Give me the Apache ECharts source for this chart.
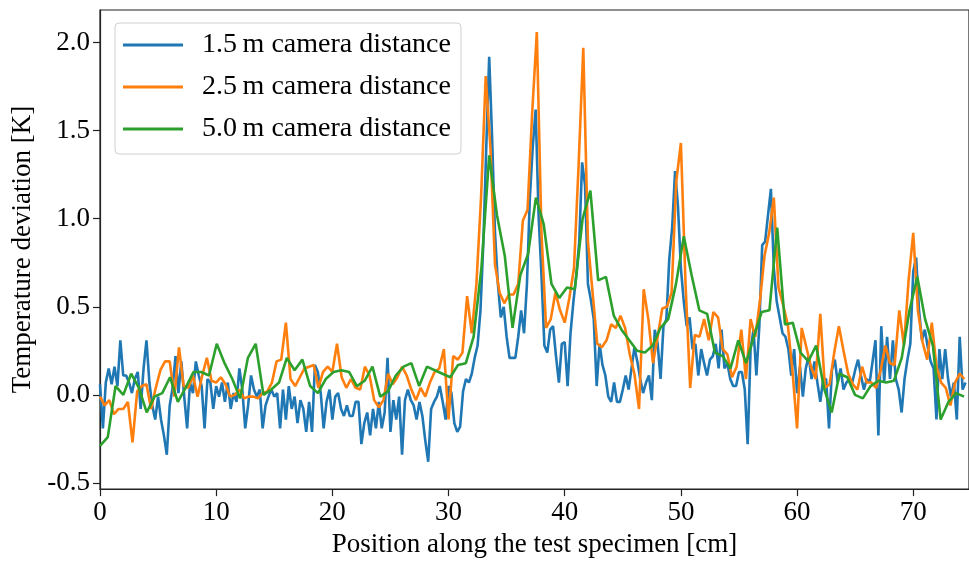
<!DOCTYPE html>
<html>
<head>
<meta charset="utf-8">
<script src="https://cdn.jsdelivr.net/npm/echarts@6/dist/echarts.min.js"></script>
<style>
  html, body { margin: 0; padding: 0; background: #fff; }
  #chart { width: 969px; height: 563px; }
</style>
</head>
<body>
<div id="chart"></div>
<script>
// labels
const seriesNames = ['1.5\u2009m camera distance', '2.5\u2009m camera distance', '5.0\u2009m camera distance'];
const xTicks = [0, 10, 20, 30, 40, 50, 60, 70];
const yTicks = [-0.5, 0.0, 0.5, 1.0, 1.5, 2.0];

// sampling step along the specimen [cm] for each camera distance
const step15 = 0.25;
const step25 = 0.4;
const step50 = 0.67;

// temperature deviation [K], 1.5 m camera distance
const dev15 = [
  0.06, -0.19, 0.07, 0.15, 0.06, 0.16, 0.05, 0.31, 0.11, 0.11, 0.07, 0.01, 0.09, 0.13, -0.08, 0.15, 0.31, 0.07, -0.06, -0.14,
  -0.01, -0.14, -0.23, -0.34, -0.06, 0.04, 0.22, 0.01, 0.19, -0.01, -0.19, 0.07, 0.01, 0.19, 0.11, 0.05, -0.19, 0.09, 0.07, -0.08,
  0.05, -0.01, 0.07, -0.04, 0.07, -0.08, 0.01, -0.04, 0.15, 0.03, -0.19, -0.06, 0.11, 0.03, -0.01, 0.03, -0.19, -0.06, -0.01, 0.03,
  -0.01, 0.01, -0.19, 0.03, -0.14, 0.05, -0.08, -0.01, -0.16, -0.03, -0.08, -0.21, -0.04, -0.21, 0.17, 0.13, 0.01, -0.19, -0.04, 0.03,
  -0.14, -0.01, 0.01, -0.08, -0.12, -0.06, -0.12, -0.12, -0.04, -0.04, -0.28, -0.16, -0.10, -0.23, -0.08, -0.19, -0.04, -0.19, -0.10, 0.21,
  -0.21, -0.03, -0.14, -0.01, -0.34, -0.03, 0.03, -0.03, -0.06, -0.14, -0.04, -0.12, -0.26, -0.38, -0.08, -0.04, -0.01, 0.05, -0.04, -0.14,
  0.05, 0.01, -0.16, -0.21, -0.18, 0.02, 0.09, 0.07, 0.12, 0.21, 0.28, 0.48, 0.87, 1.41, 1.92, 1.46, 0.92, 0.63, 0.44, 0.50,
  0.33, 0.21, 0.21, 0.21, 0.33, 0.48, 0.35, 0.63, 1.12, 1.41, 1.62, 1.02, 0.68, 0.28, 0.24, 0.37, 0.39, 0.22, 0.07, 0.29,
  0.30, 0.05, 0.35, 0.53, 0.68, 0.87, 1.32, 1.19, 0.63, 0.54, 0.43, 0.05, 0.29, 0.17, 0.11, -0.01, -0.04, 0.07, -0.04, -0.04,
  0.03, 0.11, 0.03, 0.15, 0.27, 0.19, 0.09, 0.01, 0.07, 0.11, -0.03, 0.37, 0.29, 0.09, 0.39, 0.43, 0.77, 0.95, 1.27, 1.07,
  0.72, 0.53, 0.39, 0.44, 0.26, 0.29, 0.11, 0.26, 0.18, 0.11, 0.20, 0.22, 0.29, 0.15, 0.37, 0.15, 0.18, 0.09, 0.05, 0.05,
  0.13, 0.13, 0.03, -0.28, 0.26, 0.37, 0.11, 0.39, 0.85, 0.87, 1.02, 1.17, 0.72, 0.53, 0.44, 0.35, 0.33, 0.26, 0.11, 0.26,
  0.01, 0.16, -0.01, 0.15, 0.22, 0.09, 0.19, 0.07, -0.04, 0.09, 0.09, -0.19, 0.14, 0.20, 0.07, 0.15, 0.03, 0.07, 0.09, 0.07,
  0.14, 0.20, 0.11, 0.03, 0.09, 0.07, 0.19, 0.31, -0.23, 0.39, 0.07, 0.33, 0.09, 0.31, 0.09, 0.03, -0.10, 0.09, 0.20, 0.29,
  0.70, 0.78, 0.48, 0.31, 0.37, 0.27, 0.19, 0.15, -0.14, 0.26, 0.09, 0.26, 0.09, -0.01, 0.07, -0.14, 0.33, 0.03, 0.07
];

// temperature deviation [K], 2.5 m camera distance
const dev25 = [
  -0.01, -0.06, -0.03, -0.11, -0.08, -0.08, -0.04, -0.27, 0.02, 0.05, 0.06, -0.08, 0.04, 0.14, 0.19, 0.19, -0.01, 0.27, 0.05, 0.04, 0.11, -0.01, 0.11, 0.21, 0.08,
  0.07, 0.10, 0.06, -0.01, 0.00, 0.03, -0.02, -0.01, -0.01, -0.02, 0.01, 0.02, 0.07, 0.19, 0.20, 0.41, 0.09, 0.05, 0.10, 0.15, 0.16, 0.17, 0.04, 0.13, 0.16,
  0.13, 0.29, 0.10, 0.04, 0.09, 0.04, 0.03, 0.16, 0.11, -0.03, -0.07, -0.03, 0.12, 0.06, 0.10, 0.16, 0.11, 0.03, -0.03, 0.04, -0.01, 0.07, 0.13, 0.15, 0.26,
  -0.14, 0.22, 0.20, 0.24, 0.56, 0.35, 0.63, 1.12, 1.81, 1.41, 0.74, 0.58, 0.52, 0.57, 0.57, 0.63, 0.99, 1.05, 1.60, 2.06, 0.92, 0.38, 0.43, 0.58, 0.48,
  0.41, 0.55, 0.72, 1.31, 1.97, 0.87, 0.58, 0.29, 0.27, 0.31, 0.40, 0.38, 0.45, 0.38, 0.23, 0.12, -0.08, 0.60, 0.43, 0.18, 0.33, 0.49, 0.50, 0.58, 1.21,
  1.43, 0.63, 0.04, 0.34, 0.33, 0.43, 0.31, 0.47, 0.44, 0.26, 0.23, 0.10, 0.16, 0.37, 0.09, 0.43, 0.33, 0.53, 0.79, 0.92, 1.12, 0.61, 0.51, 0.40, 0.14,
  -0.19, 0.38, 0.27, 0.16, 0.09, 0.46, 0.04, 0.06, 0.24, 0.39, 0.25, 0.12, 0.06, 0.03, 0.16, 0.07, 0.07, 0.04, 0.14, 0.28, 0.18, 0.17, 0.48, 0.28, 0.65,
  0.92, 0.48, 0.30, 0.20, 0.41, 0.16, 0.07, 0.04, -0.06, 0.07, 0.12, 0.09
];

// temperature deviation [K], 5.0 m camera distance
const dev50 = [
  -0.29, -0.24, 0.05, 0.00, 0.12, 0.04, -0.10, -0.01, 0.01, 0.10, -0.04, 0.04, 0.13, 0.13, 0.11, 0.29, 0.18, 0.09, -0.02, 0.21, 0.29, 0.00, 0.03,
  0.07, 0.21, 0.14, 0.20, 0.05, 0.01, 0.09, 0.13, 0.14, 0.13, 0.05, 0.08, 0.16, -0.01, 0.02, 0.11, 0.16, 0.18, 0.05, 0.16, 0.14, 0.12, 0.10,
  0.17, 0.18, 0.33, 0.72, 1.36, 1.02, 0.79, 0.38, 0.68, 0.80, 1.12, 0.97, 0.63, 0.55, 0.61, 0.60, 1.00, 1.16, 0.65, 0.67, 0.45, 0.37,
  0.31, 0.25, 0.24, 0.28, 0.38, 0.43, 0.63, 0.90, 0.68, 0.48, 0.46, 0.24, 0.22, 0.15, 0.31, 0.18, 0.33, 0.47, 0.48, 0.95, 0.40, 0.41, 0.24,
  0.19, 0.28, 0.04, -0.10, 0.12, 0.10, 0.00, -0.02, 0.05, 0.08, 0.07, 0.08, 0.21, 0.48, 0.67, 0.43, 0.28, -0.14, -0.04, 0.01, -0.01
];

const colors = ['#1f77b4', '#ff7f0e', '#2ca02c'];
const serif = 'Liberation Serif';

function toPoints(values, step) {
  return values.map((v, i) => [Math.round(i * step * 1000) / 1000, v]);
}

const chart = echarts.init(document.getElementById('chart'));

const option = {
  animation: false,
  backgroundColor: '#fff',
  grid: {
    left: 100, right: -5, top: 10, bottom: 69,
    show: true, borderColor: '#222', borderWidth: 1.2, backgroundColor: 'transparent'
  },
  legend: {
    orient: 'vertical',
    left: 115, top: 23,
    icon: 'rect',
    itemWidth: 60, itemHeight: 3,
    itemGap: 14,
    padding: [8, 10, 11, 8],
    backgroundColor: 'rgba(255,255,255,0.85)',
    borderColor: '#d0d0d0', borderWidth: 1, borderRadius: 4,
    textStyle: { fontFamily: serif, fontSize: 28, lineHeight: 28, color: '#000', padding: [0, 0, 0, 14] },
    data: seriesNames
  },
  xAxis: {
    type: 'value',
    min: 0, max: 74.8,
    name: 'Position along the test specimen [cm]',
    nameLocation: 'middle', nameGap: 36,
    nameTextStyle: { fontFamily: serif, fontSize: 27, color: '#000' },
    axisLine: { show: true, onZero: false, lineStyle: { color: '#222', width: 1.2 } },
    axisTick: { show: true, length: 7, inside: false, customValues: xTicks, lineStyle: { color: '#222', width: 1.2 } },
    axisLabel: { customValues: xTicks, fontFamily: serif, fontSize: 27, color: '#000', margin: 10 },
    splitLine: { show: false }
  },
  yAxis: {
    type: 'value',
    min: -0.535, max: 2.185,
    name: 'Temperature deviation [K]',
    nameLocation: 'middle', nameGap: 60,
    nameTextStyle: { fontFamily: serif, fontSize: 27, color: '#000' },
    axisLine: { show: true, onZero: false, lineStyle: { color: '#222', width: 1.2 } },
    axisTick: { show: true, length: 7, inside: false, customValues: yTicks, lineStyle: { color: '#222', width: 1.2 } },
    axisLabel: {
      customValues: yTicks, fontFamily: serif, fontSize: 27, color: '#000', margin: 10,
      formatter: v => v.toFixed(1)
    },
    splitLine: { show: false }
  },
  series: [
    { name: seriesNames[0], type: 'line', data: toPoints(dev15, step15), showSymbol: false, color: colors[0], lineStyle: { width: 2.6 } },
    { name: seriesNames[1], type: 'line', data: toPoints(dev25, step25), showSymbol: false, color: colors[1], lineStyle: { width: 2.6 } },
    { name: seriesNames[2], type: 'line', data: toPoints(dev50, step50), showSymbol: false, color: colors[2], lineStyle: { width: 2.6 } }
  ]
};

chart.setOption(option);
</script>
</body>
</html>
